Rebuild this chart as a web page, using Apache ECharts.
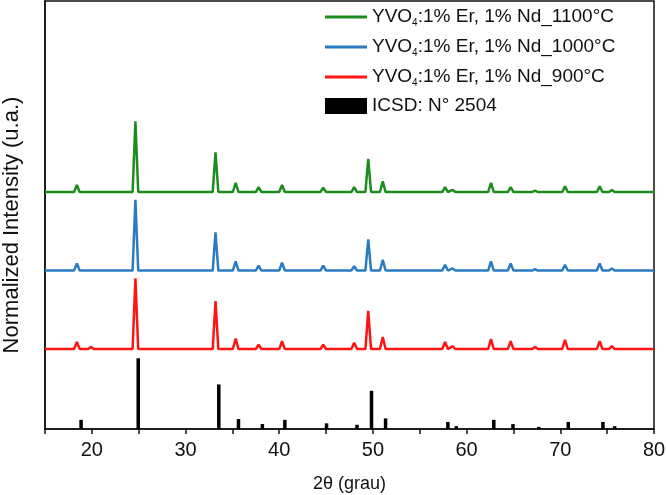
<!DOCTYPE html>
<html>
<head>
<meta charset="utf-8">
<script src="https://cdn.jsdelivr.net/npm/echarts@6/dist/echarts.min.js"></script>
<style>
html, body { margin: 0; padding: 0; background: #fff; }
#chart { width: 666px; height: 495px; }
</style>
</head>
<body>
<div id="chart"></div>
<script>
// peak positions (2theta) shared by the three measured samples
var samplePeaks = [18.4, 19.9, 24.65, 33.2, 35.35, 37.8, 40.3, 44.7, 48.0, 49.5, 51.05, 57.7, 58.5, 62.6, 64.7, 67.3, 70.5, 74.2, 75.5];
// normalized intensities (main peak = 100)
var green1100 = [10, 0, 100, 56, 13, 7, 10, 6, 7, 47, 15, 7, 3, 13, 7, 2, 8, 8, 3];
var blue1000  = [10, 0, 100, 54, 13, 7, 11, 7, 6, 44, 15, 8, 3, 13, 10, 2, 8, 10, 3];
var red900    = [10, 3, 100, 68, 15, 6, 11, 6, 9, 54, 17, 10, 4, 14, 11, 3, 13, 11, 4];

// ICSD N° 2504 reference pattern
var icsdPeaks = [18.85, 24.95, 33.55, 35.65, 38.2, 40.6, 45.05, 48.3, 49.85, 51.35, 58.0, 58.9, 62.9, 64.95, 67.7, 70.85, 74.55, 75.8];
var icsd2504  = [13, 100, 63, 14, 7, 13, 8, 6, 54, 15, 10, 4, 13, 7, 3, 10, 10, 4];

var xTicks = [20, 30, 40, 50, 60, 70, 80];
var names = ['YVO4:1% Er, 1% Nd_1100°C', 'YVO4:1% Er, 1% Nd_1000°C', 'YVO4:1% Er, 1% Nd_900°C', 'ICSD: N° 2504'];

// vertical stacking offsets and look
var offsets = [335, 224, 113];
var colors = ['#1c8c1c', '#2a7bc0', '#ff1414'];
var halfWidth = 0.3;
var lineIcon = 'path://M0,0h42v3h-42z';

function trace(peaks, heights, off) {
	var pts = [[15, off]];
	for (var i = 0; i < peaks.length; i++) {
		if (!heights[i]) continue;
		pts.push([peaks[i] - halfWidth, off]);
		pts.push([peaks[i], off + heights[i]]);
		pts.push([peaks[i] + halfWidth, off]);
	}
	pts.push([80, off]);
	return pts;
}

var icsdData = [];
for (var i = 0; i < icsdPeaks.length; i++) {
	icsdData.push([icsdPeaks[i], icsd2504[i]]);
}

var sampleSets = [green1100, blue1000, red900];
var series = [];
for (var s = 0; s < 3; s++) {
	series.push({
		name: names[s],
		type: 'line',
		symbol: 'none',
		showSymbol: false,
		data: trace(samplePeaks, sampleSets[s], offsets[s]),
		lineStyle: { color: colors[s], width: 2.5 },
		itemStyle: { color: colors[s] }
	});
}
series.push({
	name: names[3],
	type: 'bar',
	barWidth: 3.5,
	data: icsdData,
	itemStyle: { color: '#000' }
});

var myChart = echarts.init(document.getElementById('chart'));
var option = {
	animation: false,
	grid: {
		left: 45,
		right: 12,
		top: 1,
		bottom: 66,
		outerBoundsMode: 'none',
		show: true,
		borderColor: '#111',
		borderWidth: 1.5
	},
	legend: {
		orient: 'vertical',
		left: 325,
		top: 6,
		padding: 0,
		itemGap: 8,
		itemWidth: 42,
		itemHeight: 16,
		data: [
			{ name: names[0], icon: lineIcon },
			{ name: names[1], icon: lineIcon },
			{ name: names[2], icon: lineIcon },
			{ name: names[3], icon: 'rect' }
		],
		formatter: function (name) {
			return name.replace('YVO4', 'YVO{sub|4}');
		},
		textStyle: {
			fontFamily: 'Liberation Sans',
			fontSize: 19,
			color: '#111',
			lineHeight: 20,
			rich: {
				sub: { fontSize: 10, lineHeight: 10, padding: [12, 0, 0, 0], fontFamily: 'Liberation Sans', color: '#111' }
			}
		}
	},
	xAxis: {
		type: 'value',
		min: 15,
		max: 80,
		interval: 5,
		name: '2θ (grau)',
		nameLocation: 'middle',
		nameGap: 46,
		nameTextStyle: { fontFamily: 'Liberation Sans', fontSize: 18, color: '#111' },
		axisLine: { onZero: false, lineStyle: { color: '#111', width: 1.5 } },
		axisTick: { show: true, length: 5, lineStyle: { color: '#111', width: 1.5 } },
		splitLine: { show: false },
		axisLabel: {
			margin: 11,
			fontFamily: 'Liberation Sans',
			fontSize: 20,
			color: '#111',
			formatter: function (v) {
				return xTicks.indexOf(v) >= 0 ? String(v) : '';
			}
		}
	},
	yAxis: {
		type: 'value',
		min: 0,
		max: 605,
		name: 'Normalized Intensity (u.a.)',
		nameLocation: 'middle',
		nameGap: 22,
		nameTextStyle: { fontFamily: 'Liberation Sans', fontSize: 22, color: '#111', padding: [0, 20, 0, 0] },
		axisLine: { show: true, lineStyle: { color: '#111', width: 1.5 } },
		axisTick: { show: false },
		axisLabel: { show: false },
		splitLine: { show: false }
	},
	series: series
};
myChart.setOption(option);
</script>
</body>
</html>
